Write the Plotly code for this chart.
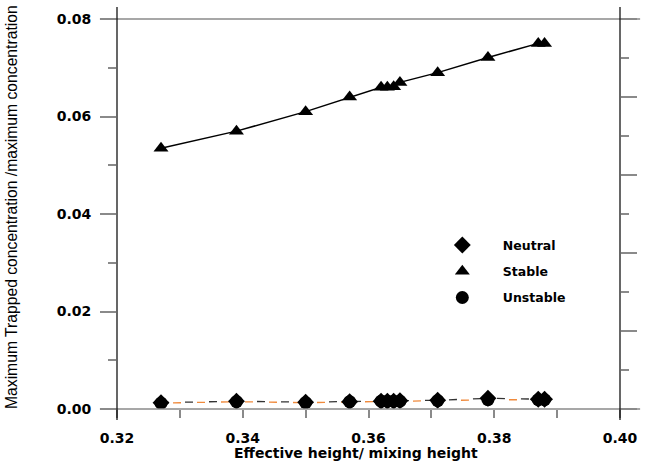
import plotly.graph_objects as go

# ---- data ----
x_vals = [0.327, 0.339, 0.350, 0.357, 0.362, 0.363, 0.364, 0.365, 0.371, 0.379, 0.387, 0.388]
stable = [0.0535, 0.0570, 0.0610, 0.0640, 0.0660, 0.0660, 0.0661, 0.0670, 0.0690, 0.0721, 0.0750, 0.0750]
neutral = [0.0013, 0.0016, 0.0014, 0.0015, 0.0016, 0.0016, 0.0016, 0.0017, 0.0018, 0.0022, 0.0020, 0.0020]
unstable = [0.0012, 0.0015, 0.0013, 0.0015, 0.0016, 0.0016, 0.0016, 0.0016, 0.0017, 0.0019, 0.0019, 0.0019]

x_ticks = [0.32, 0.34, 0.36, 0.38, 0.40]
x_minor = [0.33, 0.35, 0.37, 0.39]
y_ticks = [0.00, 0.02, 0.04, 0.06, 0.08]
y_minor = [0.01, 0.03, 0.05, 0.07]
y2_ticks = [0.0, 0.016, 0.032, 0.048, 0.064, 0.08]
y2_minor = [0.008, 0.024, 0.040, 0.056, 0.072]

x_title = "Effective height/ mixing height"
y_title = "Maximum Trapped concentration /maximum concentration"

TICK_FONT = dict(family="DejaVu Sans", size=14, color="black", weight="bold")
GRAY = "#8a8a8a"

fig = go.Figure()

# lines (no legend), on the primary y axis
fig.add_trace(go.Scatter(x=x_vals, y=unstable, mode="lines",
                         line=dict(color="#f08a3c", width=1.3, dash="0px,12px,8px,4px"),
                         showlegend=False, hoverinfo="skip"))
fig.add_trace(go.Scatter(x=x_vals, y=neutral, mode="lines",
                         line=dict(color="#333333", width=1.3, dash="8px,16px"),
                         showlegend=False, hoverinfo="skip"))
fig.add_trace(go.Scatter(x=x_vals, y=stable, mode="lines",
                         line=dict(color="black", width=1.5),
                         showlegend=False, hoverinfo="skip"))

# markers (legend), on the overlaying right axis (same range) so they sit on top
fig.add_trace(go.Scatter(x=x_vals, y=unstable, mode="markers", name="Unstable", yaxis="y2",
                         legendgroup="c", legendrank=3,
                         marker=dict(symbol="circle", size=13, color="black")))
fig.add_trace(go.Scatter(x=x_vals, y=neutral, mode="markers", name="Neutral", yaxis="y2",
                         legendgroup="a", legendrank=1,
                         marker=dict(symbol="diamond", size=13, color="black")))
fig.add_trace(go.Scatter(x=x_vals, y=stable, mode="markers", name="Stable", yaxis="y2",
                         legendgroup="b", legendrank=2,
                         marker=dict(symbol="triangle-up", size=13, color="black")))

# box lines extending past the corners (Grapher style)
ext_x0, ext_x1 = -0.034, 1.04
ext_y0, ext_y1 = -0.028, 1.031
shapes = [
    dict(type="line", xref="paper", yref="paper", x0=ext_x0, x1=ext_x1, y0=0, y1=0,
         line=dict(color=GRAY, width=1.5)),
    dict(type="line", xref="paper", yref="paper", x0=ext_x0, x1=ext_x1, y0=1, y1=1,
         line=dict(color=GRAY, width=1.5)),
    dict(type="line", xref="paper", yref="paper", x0=0, x1=0, y0=ext_y0, y1=ext_y1,
         line=dict(color="black", width=1.2)),
    dict(type="line", xref="paper", yref="paper", x0=1, x1=1, y0=ext_y0, y1=ext_y1,
         line=dict(color="black", width=1.2)),
]

fig.update_layout(
    width=651, height=466,
    margin=dict(l=117, r=31, t=19, b=57),
    paper_bgcolor="white", plot_bgcolor="white",
    shapes=shapes,
    xaxis=dict(range=[0.32, 0.40], tickvals=x_ticks, tickformat=".2f",
               ticks="outside", ticklen=8, tickcolor=GRAY, tickwidth=1.5,
               ticklabelstandoff=8,
               minor=dict(tickvals=x_minor, ticks="outside", ticklen=8, tickcolor=GRAY, tickwidth=1.5),
               showgrid=False, zeroline=False, showline=False, tickfont=TICK_FONT),
    yaxis=dict(range=[0, 0.08], tickvals=y_ticks, tickformat=".2f",
               ticks="outside", ticklen=16, tickcolor=GRAY, tickwidth=1.5,
               ticklabelstandoff=6,
               minor=dict(tickvals=y_minor, ticks="outside", ticklen=8, tickcolor=GRAY, tickwidth=1.5),
               showgrid=False, zeroline=False, showline=False, tickfont=TICK_FONT),
    yaxis2=dict(range=[0, 0.08], overlaying="y", side="right", tickvals=y2_ticks,
                showticklabels=False, ticks="outside", ticklen=16, tickcolor=GRAY, tickwidth=1.5,
                minor=dict(tickvals=y2_minor, ticks="outside", ticklen=8, tickcolor=GRAY, tickwidth=1.5),
                showgrid=False, zeroline=False, showline=False),
    legend=dict(x=0.606, y=0.458, xanchor="left", yanchor="top",
                bgcolor="rgba(0,0,0,0)", tracegroupgap=7, itemwidth=71,
                font=dict(family="DejaVu Sans", size=12.5, color="black", weight="bold")),
    annotations=[
        dict(text=x_title, xref="paper", yref="paper", x=0.475, y=-0.114,
             xanchor="center", yanchor="middle", showarrow=False,
             font=dict(family="DejaVu Sans", size=14, color="black", weight="bold")),
        dict(text=y_title, xref="paper", yref="paper", x=-0.2087, y=0.518,
             xanchor="center", yanchor="middle", textangle=-90, showarrow=False,
             font=dict(family="Liberation Sans", size=15.7, color="black")),
    ],
)

fig.write_html("out.html",
               config={"displayModeBar": False},
               post_script="document.documentElement.style.margin='0';"
                           "document.body.style.margin='0';"
                           "document.body.style.overflow='hidden';")
